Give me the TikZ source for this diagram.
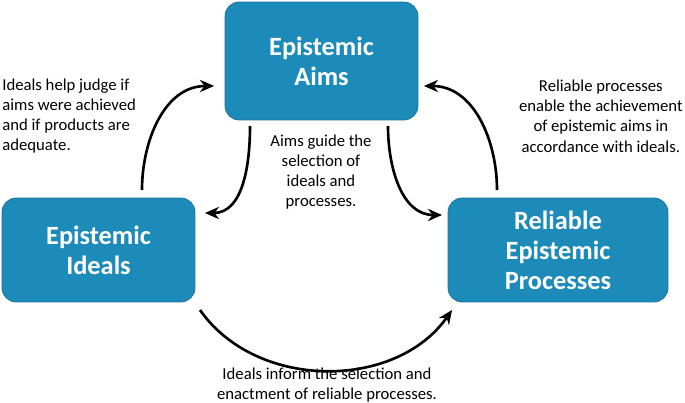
\documentclass[tikz,border=0pt]{standalone}
\usepackage{fontspec}
\setmainfont{Carlito}
\usetikzlibrary{positioning, arrows.meta}
\definecolor{boxblue}{HTML}{1D8BBA}
\begin{document}
\begin{tikzpicture}[
    x=0.02cm, y=-0.02cm,
    box/.style={rectangle, rounded corners=8pt, fill=boxblue, draw=boxblue!80!black, text=white, font=\fontsize{15}{17}\selectfont\bfseries, align=center},
    note/.style={font=\fontsize{9.5}{11.5}\selectfont, align=center},
    arrow/.style={-{Stealth[length=8pt,width=7pt]}, line width=1.5pt, black}
]
\useasboundingbox (0,0) rectangle (685,402);

\node[box, minimum width=3.86cm, minimum height=2.36cm] (aims) at (321.5,61) {Epistemic\\Aims};
\node[box, minimum width=3.86cm, minimum height=2.08cm] (ideals) at (98.5,250) {Epistemic\\Ideals};
\node[box, minimum width=4.4cm, minimum height=2.08cm] (reliable) at (558,250) {Reliable\\Epistemic\\Processes};

\node[note, align=left, anchor=west, inner sep=0pt] (judge) at (2,116) {Ideals help judge if\\aims were achieved\\and if products are\\adequate.};
\node[note] (guide) at (321,172) {Aims guide the\\selection of\\ideals and\\processes.};
\node[note, anchor=east, inner sep=0pt] (enable) at (683,116) {Reliable processes\\enable the achievement\\of epistemic aims in\\accordance with ideals.};
\node[note] (inform) at (327,385) {Ideals inform the selection and\\enactment of reliable processes.};

\coordinate (a1) at (214,86);
\coordinate (a2) at (250,126);
\coordinate (a3) at (388,126);
\coordinate (a4) at (424,86);
\coordinate (i1) at (142,190);
\coordinate (i2) at (205,213);
\coordinate (i3) at (200,310);
\coordinate (r1) at (497,190);
\coordinate (r2) at (442,215);
\coordinate (r3) at (452,310);

\draw[arrow] (i1) to[out=90,in=180] (a1);
\draw[arrow] (a2) to[out=-90,in=0] (i2);
\draw[arrow] (a3) to[out=-90,in=180] (r2);
\draw[arrow] (r1) to[out=90,in=0] (a4);
\draw[arrow] (i3) to[out=-55,in=-125] (r3);
\end{tikzpicture}
\end{document}
